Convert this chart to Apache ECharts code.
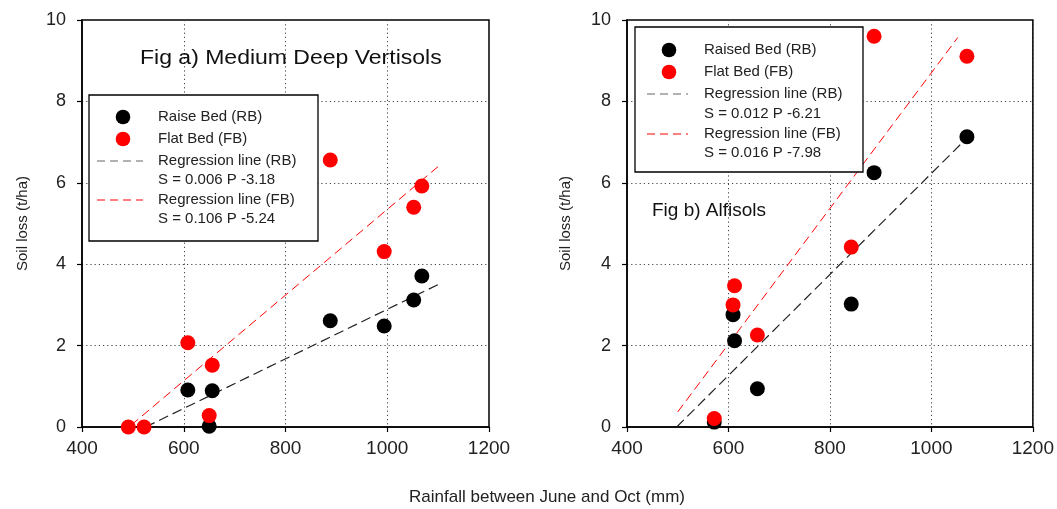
<!DOCTYPE html>
<html><head><meta charset="utf-8">
<script src="https://cdn.jsdelivr.net/npm/echarts@6/dist/echarts.min.js"></script>
<style>html,body{margin:0;padding:0;background:#fff}#c{width:1057px;height:509px}</style>
</head><body><div id="c"></div>
<script>
// Fig a) Medium Deep Vertisols
const vertRBx = [608, 656, 650, 888, 994, 1052, 1068];
const vertRBy = [0.91, 0.89, 0.02, 2.61, 2.48, 3.12, 3.71];
const vertFBx = [491, 522, 608, 656, 650, 888, 994, 1052, 1068];
const vertFBy = [0.0, 0.0, 2.07, 1.52, 0.28, 6.56, 4.31, 5.40, 5.92];
const vertRegRB = [[525, 0.0], [1100, 3.50]];
const vertRegFB = [[497, 0.05], [1102, 6.42]];
// Fig b) Alfisols
const alfRBx = [572, 609, 612, 657, 842, 887, 1070];
const alfRBy = [0.12, 2.76, 2.12, 0.94, 3.02, 6.25, 7.13];
const alfFBx = [572, 609, 612, 657, 842, 887, 1070];
const alfFBy = [0.21, 3.00, 3.47, 2.26, 4.42, 9.60, 9.11];
const alfRegRB = [[498, 0.0], [1062, 7.0]];
const alfRegFB = [[500, 0.37], [1052, 9.57]];
// axes
const xTicks = [400, 600, 800, 1000, 1200];
const yTicks = [0, 2, 4, 6, 8, 10];
const legA = ['Raise Bed (RB)', 'Flat Bed (FB)', 'Regression line (RB)', 'S = 0.006 P -3.18', 'Regression line (FB)', 'S = 0.106 P -5.24'];
const legB = ['Raised Bed (RB)', 'Flat Bed (FB)', 'Regression line (RB)', 'S = 0.012 P -6.21', 'Regression line (FB)', 'S = 0.016 P -7.98'];

const FONT = 'Liberation Sans';
const zip = (xs, ys) => xs.map((x, i) => [x, ys[i]]);

function xAxis(gi) {
  return {
    gridIndex: gi, type: 'value', min: xTicks[0], max: xTicks[xTicks.length - 1], interval: 200,
    axisLine: { onZero: false, lineStyle: { color: '#000', width: 1.5 } },
    axisTick: { show: true, inside: false, length: 5, lineStyle: { color: '#000', width: 1.2 } },
    axisLabel: { margin: 12, color: '#222', fontSize: 19, fontFamily: FONT, formatter: v => String(v) },
    splitLine: { show: true, lineStyle: { color: '#444', type: [1.2, 3], width: 1 } }
  };
}
function yAxis(gi, gap) {
  return {
    gridIndex: gi, type: 'value', min: yTicks[0], max: yTicks[yTicks.length - 1], interval: 2,
    name: 'Soil loss (t/ha)', nameLocation: 'middle', nameGap: gap, nameRotate: 90,
    nameTextStyle: { fontSize: 15, color: '#222', fontFamily: FONT },
    axisLine: { onZero: false, lineStyle: { color: '#000', width: 1.5 } },
    axisTick: { show: true, inside: false, length: 5, lineStyle: { color: '#000', width: 1.2 } },
    axisLabel: { margin: 16, color: '#222', fontSize: 18, fontFamily: FONT },
    splitLine: { show: true, lineStyle: { color: '#444', type: [1.2, 3], width: 1 } }
  };
}
function scatter(gi, data, color) {
  return { type: 'scatter', xAxisIndex: gi, yAxisIndex: gi, data, symbol: 'circle', symbolSize: 15,
    itemStyle: { color, opacity: 1 }, z: 3, silent: true };
}
function reg(gi, data, color, width, dash) {
  return { type: 'line', xAxisIndex: gi, yAxisIndex: gi, data, showSymbol: false, symbol: 'none',
    lineStyle: { color, width, type: dash }, z: 2, silent: true, animation: false };
}
function txt(x, y, text, size, extra) {
  return Object.assign({ type: 'text', x, y, z: 11,
    style: Object.assign({ text, fill: '#222', fontSize: size, fontFamily: FONT, verticalAlign: 'middle', textVerticalAlign: 'middle' }, extra || {}) });
}
function legendBox(x, y, w, h, rows, circX, lineX1, lineX2, textX, labels) {
  const els = [{ type: 'rect', shape: { x, y, width: w, height: h }, style: { fill: '#fff', stroke: '#000', lineWidth: 1.3 }, z: 10 }];
  els.push({ type: 'circle', shape: { cx: circX, cy: rows[0], r: 7.3 }, style: { fill: '#000' }, z: 11 });
  els.push({ type: 'circle', shape: { cx: circX, cy: rows[1], r: 7.3 }, style: { fill: '#f00' }, z: 11 });
  els.push({ type: 'line', shape: { x1: lineX1, y1: rows[2], x2: lineX2, y2: rows[2] }, style: { stroke: '#666', lineWidth: 1.2, lineDash: [8, 5] }, z: 11 });
  els.push({ type: 'line', shape: { x1: lineX1, y1: rows[4], x2: lineX2, y2: rows[4] }, style: { stroke: '#f00', lineWidth: 1.2, lineDash: [8, 5] }, z: 11 });
  labels.forEach((t, i) => els.push(txt(textX, rows[i], t, 15)));
  return els;
}

const chart = echarts.init(document.getElementById('c'), null, { renderer: 'canvas' });
chart.setOption({
  animation: false,
  grid: [
    { left: 82, right: 568, top: 20, bottom: 82, show: true, borderColor: '#000', borderWidth: 1.5, backgroundColor: 'transparent' },
    { left: 627, right: 24, top: 20, bottom: 82, show: true, borderColor: '#000', borderWidth: 1.5, backgroundColor: 'transparent' }
  ],
  xAxis: [xAxis(0), xAxis(1)],
  yAxis: [yAxis(0, 52), yAxis(1, 54)],
  series: [
    reg(0, vertRegRB, '#222', 1.2, [10, 5]),
    reg(0, vertRegFB, '#f00', 1.0, [9, 5]),
    scatter(0, zip(vertRBx, vertRBy), '#000'),
    scatter(0, zip(vertFBx, vertFBy), '#f00'),
    reg(1, alfRegRB, '#222', 1.2, [10, 5]),
    reg(1, alfRegFB, '#f00', 1.0, [9, 5]),
    scatter(1, zip(alfRBx, alfRBy), '#000'),
    scatter(1, zip(alfFBx, alfFBy), '#f00')
  ],
  graphic: [
    Object.assign(txt(140, 58, 'Fig a) Medium Deep Vertisols', 20, { fill: '#111' }), { scaleX: 1.15, z: 5 }),
    Object.assign(txt(652, 211, 'Fig b) Alfisols', 19, { fill: '#111' }), { z: 5 }),
    Object.assign(txt(547, 497, 'Rainfall between June and Oct (mm)', 17, { align: 'center', textAlign: 'center' }), { z: 5 }),
    ...legendBox(89, 95, 229, 146, [117, 139, 161, 180, 200, 219], 123, 97, 143, 158, legA),
    ...legendBox(635, 27, 228, 145, [50, 72, 94, 114, 134, 153], 669, 647, 688, 704, legB)
  ]
});
</script></body></html>
